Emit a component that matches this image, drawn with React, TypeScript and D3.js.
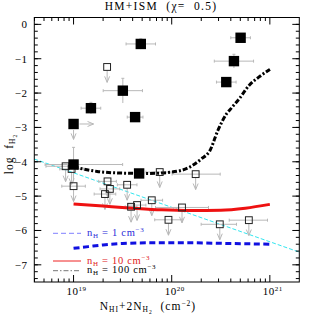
import * as d3 from "d3";

// filled squares: [logN, logf]
const filledPts = [
  [19.685, -0.57], [19.502, -1.93], [19.177, -2.44], [19.627, -2.70],
  [19.0, -2.90], [19.0, -4.08], [19.668, -4.34],
  [20.702, -0.39], [20.634, -1.07], [20.556, -1.68],
];
// x error (minus, plus) and y error for filled squares
const filledXerr = [
  [0.15, 0.15], [0.2, 0.2], [0.1, 0.1], [0.08, 0.08],
  [0, 0], [0.29, 0.5], [0, 0],
  [0.1, 0.1], [0.2, 0.2], [0.1, 0.1],
];
const filledYerr = [0.15, 0.36, 0.17, 0, 0, 0.5, 0, 0.1, 0.2, 0];

// open squares (upper limits)
const openPts = [
  [19.342, -1.24], [18.919, -4.13], [18.98, -4.21], [19.0, -4.71],
  [19.346, -4.57], [19.37, -4.79], [19.32, -4.94], [19.546, -4.67],
  [19.586, -5.31], [19.647, -5.26], [19.797, -5.12], [19.967, -5.69],
  [19.878, -4.30], [20.244, -4.36], [20.105, -5.33], [20.49, -5.82],
  [20.786, -5.70],
];
const openXerr = [
  [0, 0], [0.2, 0.12], [0.12, 0.12], [0.12, 0.12],
  [0.09, 0.09], [0.1, 0.1], [0.11, 0.11], [0.1, 0.1],
  [0.06, 0.06], [0.09, 0.09], [0.11, 0.11], [0.14, 0.14],
  [0.14, 0.14], [0.24, 0.25], [0.27, 0.27], [0.19, 0.17],
  [0.2, 0.19],
];

// models
const n1 = [
  [19.0, -6.52], [19.15, -6.47], [19.3, -6.42], [19.5, -6.38],
  [19.8, -6.36], [20.2, -6.36], [20.6, -6.38], [21.0, -6.40],
];
const n10 = [
  [19.0, -5.23], [19.3, -5.29], [19.6, -5.35], [19.9, -5.40],
  [20.2, -5.42], [20.5, -5.41], [20.75, -5.35], [21.0, -5.24],
];
const n100 = [
  [19.0, -4.15], [19.24, -4.28], [19.5, -4.33], [19.75, -4.34],
  [20.0, -4.30], [20.18, -4.16], [20.3, -3.92], [20.39, -3.67],
  [20.47, -3.09], [20.56, -2.60], [20.61, -2.43], [20.69, -2.16],
  [20.79, -1.77], [20.89, -1.53], [21.0, -1.31],
];
const cyanLine = [[18.6, -3.92], [21.3, -6.63]];

const yTicks = [0, -1, -2, -3, -4, -5, -6, -7];
const xTicks = [19, 20, 21];

const App = () => {
  const left = 34.3, right = 299.3, top = 17.5, bottom = 282;
  const x = d3.scaleLinear().domain([18.6, 21.3]).range([left, right]);
  const y = d3.scaleLinear().domain([-7.5, 0.2]).range([bottom, top]);
  const line = d3.line<number[]>().x((d) => x(d[0])).y((d) => y(d[1])).curve(d3.curveMonotoneX);

  const yMinor = d3.range(-74, 3, 2).map((v) => v / 10);
  const xMinor: number[] = [];
  [18, 19, 20, 21].forEach((dec) => {
    for (let k = 2; k <= 9; k++) {
      const v = dec + Math.log10(k);
      if (v > 18.6 && v < 21.3) xMinor.push(v);
    }
  });

  const grey = "#b8b8b8";
  const font = "'Liberation Serif', 'DejaVu Serif', serif";
  const arrowLen = 0.45;

  const arrowDown = (cx: number, cy: number, y0: number, key: string) => {
    const y1 = cy + arrowLen * 34.2;
    return (
      <g key={key} stroke={grey} strokeWidth={1} fill="none">
        <line x1={cx} y1={y0} x2={cx} y2={y1} />
        <path d={`M${cx - 2.5},${y1 - 6} L${cx},${y1} L${cx + 2.5},${y1 - 6}`} />
      </g>
    );
  };

  return (
    <svg width={316} height={316} style={{ position: "absolute", left: 0, top: 0 }}>
      <rect width={316} height={316} fill="white" />
      <text x={161} y={10} textAnchor="middle" fontFamily={font} fontSize={11.5}
        letterSpacing={1.3} style={{ whiteSpace: "pre" }}>
        HM+ISM  (χ=  0.5)
      </text>

      {/* cyan line */}
      <path d={d3.line<number[]>().x((d) => x(d[0])).y((d) => y(d[1]))(cyanLine) || ""}
        stroke="#33e6f0" strokeWidth={1} strokeDasharray="4,2" fill="none" />

      {/* error bars filled */}
      {filledPts.map((p, i) => {
        const cx = x(p[0]), cy = y(p[1]);
        const [xm, xp] = filledXerr[i];
        const ye = filledYerr[i];
        return (
          <g key={"fe" + i} stroke={grey} strokeWidth={1}>
            {xm + xp > 0 && <line x1={x(p[0] - xm)} x2={x(p[0] + xp)} y1={cy} y2={cy} />}
            {xm > 0 && <line x1={x(p[0] - xm)} x2={x(p[0] - xm)} y1={cy - 1.5} y2={cy + 1.5} />}
            {xp > 0 && <line x1={x(p[0] + xp)} x2={x(p[0] + xp)} y1={cy - 1.5} y2={cy + 1.5} />}
            {ye > 0 && <line x1={cx} x2={cx} y1={y(p[1] + ye)} y2={y(p[1] - ye)} />}
            {ye > 0 && <line x1={cx - 1.5} x2={cx + 1.5} y1={y(p[1] + ye)} y2={y(p[1] + ye)} />}
          </g>
        );
      })}
      {/* limits for filled point at 19.0,-2.90 */}
      {(() => {
        const cx = x(19.0), cy = y(-2.9);
        return (
          <g stroke={grey} strokeWidth={1} fill="none">
            <line x1={cx + 6} x2={cx + 20} y1={cy} y2={cy} />
            <path d={`M${cx + 14},${cy - 2.5} L${cx + 20},${cy} L${cx + 14},${cy + 2.5}`} />
            {arrowDown(cx, cy, cy + 6, "fd")}
          </g>
        );
      })()}

      {/* open squares error bars + arrows */}
      {openPts.map((p, i) => {
        const cx = x(p[0]), cy = y(p[1]);
        const [xm, xp] = openXerr[i];
        return (
          <g key={"oe" + i} stroke={grey} strokeWidth={1}>
            {xm + xp > 0 && <line x1={x(p[0] - xm)} x2={x(p[0] + xp)} y1={cy} y2={cy} />}
            {xm > 0 && <line x1={x(p[0] - xm)} x2={x(p[0] - xm)} y1={cy - 1.5} y2={cy + 1.5} />}
            {xp > 0 && <line x1={x(p[0] + xp)} x2={x(p[0] + xp)} y1={cy - 1.5} y2={cy + 1.5} />}
            {arrowDown(cx, cy, cy + 3.5, "oa" + i)}
          </g>
        );
      })}

      {/* models */}
      <path d={line(n1) || ""} stroke="#1010e0" strokeWidth={3} strokeDasharray="6,3.5" fill="none" />
      <path d={line(n10) || ""} stroke="#ee1111" strokeWidth={3} fill="none" />
      <path d={line(n100) || ""} stroke="#000" strokeWidth={3} strokeDasharray="5,2,2,2" fill="none" />

      {/* open squares */}
      {openPts.map((p, i) => (
        <rect key={"o" + i} x={x(p[0]) - 3.4} y={y(p[1]) - 3.4} width={6.8} height={6.8}
          fill="none" stroke="#222" strokeWidth={1} />
      ))}
      {/* filled squares */}
      {filledPts.map((p, i) => (
        <rect key={"f" + i} x={x(p[0]) - 5.2} y={y(p[1]) - 5.2} width={10.4} height={10.4} fill="#000" />
      ))}

      {/* legend */}
      <g fontFamily={font} fontSize={10.5} letterSpacing={0.7} style={{ whiteSpace: "pre" }}>
        <line x1={53} x2={81} y1={233.3} y2={233.3} stroke="#8080ff" strokeWidth={1} strokeDasharray="5,3" />
        <text x={87} y={236} fill="#2a2ad8">
          n<tspan fontSize={7} dy={2}>H</tspan><tspan dy={-2}> = 1 cm</tspan>
          <tspan fontSize={7} dy={-4}>−3</tspan>
        </text>
        <line x1={53} x2={81} y1={261} y2={261} stroke="#ee2222" strokeWidth={1} />
        <text x={87} y={263.5} fill="#e01818">
          n<tspan fontSize={7} dy={2}>H</tspan><tspan dy={-2}> = 10 cm</tspan>
          <tspan fontSize={7} dy={-4}>−3</tspan>
        </text>
        <line x1={53} x2={81} y1={270.7} y2={270.7} stroke="#777" strokeWidth={1} strokeDasharray="5,2,1.5,2" />
        <text x={87} y={273} fill="#000">
          n<tspan fontSize={7} dy={2}>H</tspan><tspan dy={-2}> = 100 cm</tspan>
          <tspan fontSize={7} dy={-4}>−3</tspan>
        </text>
      </g>

      {/* frame */}
      <rect x={left} y={top} width={right - left} height={bottom - top} fill="none" stroke="#000" strokeWidth={1} />
      <g stroke="#000" strokeWidth={1}>
        {yTicks.map((t) => (
          <g key={"yt" + t}>
            <line x1={left} x2={left + 7} y1={y(t)} y2={y(t)} />
            <line x1={right} x2={right - 7} y1={y(t)} y2={y(t)} />
          </g>
        ))}
        {yMinor.map((t) => (
          <g key={"ym" + t}>
            <line x1={left} x2={left + 3.5} y1={y(t)} y2={y(t)} />
            <line x1={right} x2={right - 3.5} y1={y(t)} y2={y(t)} />
          </g>
        ))}
        {xTicks.map((t) => (
          <g key={"xt" + t}>
            <line x1={x(t)} x2={x(t)} y1={bottom} y2={bottom - 7} />
            <line x1={x(t)} x2={x(t)} y1={top} y2={top + 7} />
          </g>
        ))}
        {xMinor.map((t) => (
          <g key={"xm" + t}>
            <line x1={x(t)} x2={x(t)} y1={bottom} y2={bottom - 3.5} />
            <line x1={x(t)} x2={x(t)} y1={top} y2={top + 3.5} />
          </g>
        ))}
      </g>

      {/* tick labels */}
      <g fontFamily={font} fontSize={11}>
        {yTicks.map((t) => (
          <text key={"yl" + t} x={27.5} y={y(t) + 3.8} textAnchor="end" letterSpacing={0.5}>
            {t === 0 ? "0" : "−" + Math.abs(t)}
          </text>
        ))}
        {xTicks.map((t) => (
          <text key={"xl" + t} x={x(t) + 3} y={295} textAnchor="middle" letterSpacing={0.5}>
            10<tspan fontSize={7} dy={-4.5}>{t}</tspan>
          </text>
        ))}
      </g>

      {/* axis labels */}
      <text x={148} y={310} textAnchor="middle" fontFamily={font} fontSize={11.5} letterSpacing={1}
        style={{ whiteSpace: "pre" }}>
        N<tspan fontSize={7.5} dy={2}>HI</tspan><tspan dy={-2}>+2N</tspan>
        <tspan fontSize={7.5} dy={2}>H</tspan><tspan fontSize={5.5} dy={1.5}>2</tspan>
        <tspan dy={-3.5}>  (cm</tspan><tspan fontSize={7.5} dy={-4}>−2</tspan><tspan dy={4}>)</tspan>
      </text>
      <text transform="translate(13,154) rotate(-90)" textAnchor="middle" fontFamily={font} fontSize={11.5}
        letterSpacing={1} style={{ whiteSpace: "pre" }}>
        log  f<tspan fontSize={7.5} dy={2}>H</tspan><tspan fontSize={5.5} dy={1.5}>2</tspan>
      </text>
    </svg>
  );
};

export default App;
